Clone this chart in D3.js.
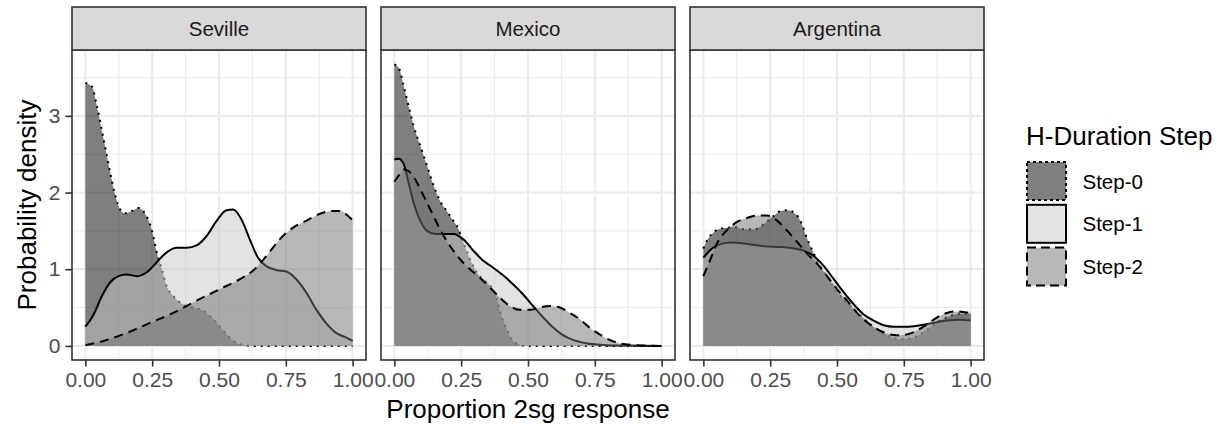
<!DOCTYPE html>
<html><head><meta charset="utf-8">
<script src="https://cdn.jsdelivr.net/npm/d3@7"></script>
<style>
body{margin:0;background:#fff}
text{font-family:"Liberation Sans", Arial, sans-serif}
</style>
</head><body><svg id="chart" width="1224" height="425"></svg>
<script>
// ---------- data ----------
const panels = ["Seville", "Mexico", "Argentina"];
const steps = ["Step-0", "Step-1", "Step-2"];
const xTickValues = [0, 0.25, 0.5, 0.75, 1];
const xTickLabels = ["0.00", "0.25", "0.50", "0.75", "1.00"];
const yTickValues = [0, 1, 2, 3];
const yTickLabels = ["0", "1", "2", "3"];
const xTitle = "Proportion 2sg response";
const yTitle = "Probability density";
const legendTitle = "H-Duration Step";

const sevilleStep0 = [[0,3.43],[0.025,3.38],[0.043,3.13],[0.068,2.70],[0.093,2.26],[0.112,1.96],[0.13,1.78],[0.149,1.73],[0.174,1.76],[0.199,1.80],[0.224,1.72],[0.248,1.52],[0.267,1.22],[0.286,1.0],[0.304,0.78],[0.329,0.65],[0.366,0.54],[0.404,0.50],[0.441,0.46],[0.478,0.35],[0.516,0.20],[0.553,0.065],[0.59,0.013],[0.627,0],[0.75,0],[0.875,0],[1,0]];
const sevilleStep1 = [[0,0.25],[0.031,0.41],[0.062,0.65],[0.093,0.83],[0.124,0.91],[0.155,0.93],[0.193,0.91],[0.23,0.96],[0.267,1.09],[0.304,1.22],[0.342,1.28],[0.379,1.28],[0.416,1.31],[0.453,1.43],[0.491,1.63],[0.528,1.77],[0.553,1.78],[0.584,1.65],[0.615,1.39],[0.646,1.15],[0.677,1.04],[0.714,0.99],[0.752,0.97],[0.789,0.87],[0.826,0.70],[0.863,0.48],[0.9,0.30],[0.938,0.17],[0.975,0.11],[1,0.065]];
const sevilleStep2 = [[0,0.01],[0.068,0.065],[0.155,0.17],[0.242,0.30],[0.329,0.43],[0.416,0.59],[0.503,0.74],[0.578,0.87],[0.627,0.98],[0.677,1.17],[0.727,1.39],[0.776,1.54],[0.826,1.63],[0.876,1.72],[0.925,1.76],[0.957,1.76],[0.981,1.70],[1,1.64]];

const mexicoStep0 = [[0,3.67],[0.016,3.63],[0.035,3.39],[0.053,3.13],[0.072,2.87],[0.097,2.61],[0.122,2.35],[0.147,2.09],[0.171,1.89],[0.196,1.76],[0.221,1.63],[0.24,1.52],[0.258,1.35],[0.283,1.13],[0.308,0.96],[0.339,0.85],[0.364,0.76],[0.383,0.61],[0.401,0.39],[0.42,0.22],[0.439,0.087],[0.463,0.022],[0.494,0],[0.625,0],[0.75,0],[0.875,0],[1,0]];
const mexicoStep1 = [[0,2.43],[0.016,2.44],[0.035,2.37],[0.053,2.13],[0.072,1.87],[0.097,1.63],[0.122,1.50],[0.153,1.46],[0.184,1.46],[0.221,1.46],[0.258,1.39],[0.296,1.24],[0.333,1.11],[0.37,1.02],[0.407,0.92],[0.445,0.80],[0.482,0.67],[0.519,0.52],[0.557,0.37],[0.594,0.24],[0.631,0.14],[0.668,0.078],[0.718,0.035],[0.78,0.013],[0.855,0.004],[1,0]];
const mexicoStep2 = [[0,2.14],[0.016,2.22],[0.035,2.30],[0.053,2.28],[0.078,2.17],[0.109,1.96],[0.14,1.74],[0.171,1.52],[0.209,1.30],[0.246,1.13],[0.283,1.0],[0.32,0.89],[0.358,0.76],[0.395,0.63],[0.432,0.52],[0.47,0.47],[0.507,0.47],[0.544,0.50],[0.581,0.52],[0.619,0.50],[0.656,0.43],[0.693,0.35],[0.73,0.24],[0.768,0.15],[0.805,0.078],[0.842,0.035],[0.892,0.013],[0.942,0.004],[1,0]];

const argentinaStep0 = [[0,1.27],[0.016,1.39],[0.041,1.49],[0.066,1.53],[0.091,1.54],[0.116,1.55],[0.153,1.52],[0.19,1.52],[0.227,1.59],[0.265,1.70],[0.289,1.76],[0.314,1.77],[0.345,1.72],[0.367,1.60],[0.389,1.39],[0.414,1.20],[0.438,1.04],[0.476,0.83],[0.513,0.65],[0.55,0.52],[0.588,0.40],[0.625,0.28],[0.662,0.19],[0.699,0.12],[0.737,0.087],[0.774,0.096],[0.811,0.15],[0.848,0.24],[0.886,0.33],[0.923,0.39],[0.96,0.42],[1,0.42]];
const argentinaStep1 = [[0,1.15],[0.029,1.26],[0.066,1.33],[0.103,1.35],[0.165,1.33],[0.227,1.30],[0.289,1.29],[0.339,1.27],[0.376,1.24],[0.414,1.17],[0.451,1.04],[0.488,0.87],[0.525,0.70],[0.563,0.54],[0.6,0.41],[0.637,0.33],[0.675,0.27],[0.712,0.25],[0.761,0.25],[0.811,0.27],[0.861,0.30],[0.911,0.33],[0.96,0.34],[1,0.33]];
const argentinaStep2 = [[0,0.91],[0.022,1.09],[0.053,1.35],[0.091,1.52],[0.128,1.62],[0.165,1.67],[0.202,1.70],[0.24,1.70],[0.277,1.63],[0.314,1.50],[0.352,1.35],[0.389,1.20],[0.426,1.07],[0.463,0.91],[0.5,0.74],[0.538,0.59],[0.575,0.43],[0.612,0.31],[0.65,0.22],[0.687,0.16],[0.724,0.14],[0.761,0.15],[0.799,0.20],[0.836,0.28],[0.873,0.37],[0.911,0.43],[0.948,0.45],[0.979,0.44],[1,0.43]];

const panelData = {
  "Seville": [sevilleStep0, sevilleStep1, sevilleStep2],
  "Mexico": [mexicoStep0, mexicoStep1, mexicoStep2],
  "Argentina": [argentinaStep0, argentinaStep1, argentinaStep2]
};

// ---------- styles ----------
const fillColors = ["#000000", "#c7c7c7", "#717171"];
const fillOpacity = 0.5;
const dashes = ["2,5", null, "9,6"];
const keyDashes = ["3,3", null, "9,5"];

const svg = d3.select("#chart");
svg.append("rect").attr("width", 1224).attr("height", 425).attr("fill", "#fff");

const panelLeft = [72, 381, 690];
const panelW = 294;
const panelTop = 50, panelBottom = 360;
const stripTop = 7;

const yMax = 3.675;
const y = d3.scaleLinear().domain([-0.05 * yMax, 1.05 * yMax]).range([panelBottom, panelTop]);

panels.forEach((name, pi) => {
  const x0 = panelLeft[pi];
  const x = d3.scaleLinear().domain([-0.05, 1.05]).range([x0, x0 + panelW]);
  const g = svg.append("g");

  g.append("rect").attr("x", x0).attr("y", panelTop).attr("width", panelW).attr("height", panelBottom - panelTop).attr("fill", "#fff");

  // minor grid
  const minorX = [0.125, 0.375, 0.625, 0.875];
  const minorY = [0.5, 1.5, 2.5, 3.5];
  g.selectAll(".mx").data(minorX).enter().append("line")
    .attr("x1", d => x(d)).attr("x2", d => x(d)).attr("y1", panelTop).attr("y2", panelBottom)
    .attr("stroke", "#ebebeb").attr("stroke-width", 1.1);
  g.selectAll(".my").data(minorY).enter().append("line")
    .attr("y1", d => y(d)).attr("y2", d => y(d)).attr("x1", x0).attr("x2", x0 + panelW)
    .attr("stroke", "#ebebeb").attr("stroke-width", 1.1);
  // major grid
  g.selectAll(".Mx").data(xTickValues).enter().append("line")
    .attr("x1", d => x(d)).attr("x2", d => x(d)).attr("y1", panelTop).attr("y2", panelBottom)
    .attr("stroke", "#ebebeb").attr("stroke-width", 2.2);
  g.selectAll(".My").data(yTickValues).enter().append("line")
    .attr("y1", d => y(d)).attr("y2", d => y(d)).attr("x1", x0).attr("x2", x0 + panelW)
    .attr("stroke", "#ebebeb").attr("stroke-width", 2.2);

  const area = d3.area().x(d => x(d[0])).y0(y(0)).y1(d => y(d[1])).curve(d3.curveMonotoneX);
  const line = d3.line().x(d => x(d[0])).y(d => y(d[1])).curve(d3.curveMonotoneX);

  panelData[name].forEach((series, si) => {
    g.append("path").attr("d", area(series)).attr("fill", fillColors[si]).attr("fill-opacity", fillOpacity);
    const l = g.append("path").attr("d", line(series)).attr("fill", "none")
      .attr("stroke", "#000").attr("stroke-width", 2);
    if (dashes[si]) l.attr("stroke-dasharray", dashes[si]);
  });

  // panel border
  g.append("rect").attr("x", x0).attr("y", panelTop).attr("width", panelW).attr("height", panelBottom - panelTop)
    .attr("fill", "none").attr("stroke", "#333").attr("stroke-width", 1.6);

  // strip
  g.append("rect").attr("x", x0).attr("y", stripTop).attr("width", panelW).attr("height", panelTop - stripTop)
    .attr("fill", "#d9d9d9").attr("stroke", "#333").attr("stroke-width", 1.6);
  g.append("text").attr("x", x0 + panelW / 2).attr("y", (stripTop + panelTop) / 2 + 7.5)
    .attr("text-anchor", "middle").attr("font-size", 20.5).attr("fill", "#1a1a1a").text(name);

  // x axis
  const xa = d3.axisBottom(x).tickValues(xTickValues).tickFormat((d, i) => xTickLabels[i]).tickSize(6.6).tickPadding(5);
  const xg = g.append("g").attr("transform", `translate(0,${panelBottom})`).call(xa);
  xg.select(".domain").remove();
  xg.selectAll(".tick line").attr("stroke", "#333").attr("stroke-width", 1.6);
  xg.selectAll(".tick text").attr("font-size", 21).attr("fill", "#4d4d4d")
    .attr("font-family", '"Liberation Sans", Arial, sans-serif');

  if (pi === 0) {
    const ya = d3.axisLeft(y).tickValues(yTickValues).tickFormat((d, i) => yTickLabels[i]).tickSize(6.6).tickPadding(5);
    const yg = g.append("g").attr("transform", `translate(${x0},0)`).call(ya);
    yg.select(".domain").remove();
    yg.selectAll(".tick line").attr("stroke", "#333").attr("stroke-width", 1.6);
    yg.selectAll(".tick text").attr("font-size", 21).attr("fill", "#4d4d4d")
      .attr("font-family", '"Liberation Sans", Arial, sans-serif');
  }
});

// axis titles
svg.append("text").attr("x", (panelLeft[0] + panelLeft[2] + panelW) / 2).attr("y", 418)
  .attr("text-anchor", "middle").attr("font-size", 26).attr("fill", "#000").text(xTitle);
svg.append("text").attr("transform", `translate(36,${(panelTop + panelBottom) / 2}) rotate(-90)`)
  .attr("text-anchor", "middle").attr("font-size", 26).attr("fill", "#000").text(yTitle);

// legend
const lg = svg.append("g");
lg.append("text").attr("x", 1026).attr("y", 145).attr("font-size", 26).attr("fill", "#000").text(legendTitle);
const keyTop = 161, keyStep = 42.8, keyX = 1026, keyW = 41, keyH = 40;
steps.forEach((s, i) => {
  const ty = keyTop + i * keyStep;
  lg.append("rect").attr("x", keyX + 1).attr("y", ty + 1).attr("width", keyW - 2).attr("height", keyH - 2)
    .attr("fill", "#fff");
  const r = lg.append("rect").attr("x", keyX + 1).attr("y", ty + 1).attr("width", keyW - 2).attr("height", keyH - 2)
    .attr("fill", fillColors[i]).attr("fill-opacity", fillOpacity)
    .attr("stroke", "#000").attr("stroke-width", 2);
  if (keyDashes[i]) r.attr("stroke-dasharray", keyDashes[i]);
  lg.append("text").attr("x", 1082.5).attr("y", ty + keyH / 2 + 7.5).attr("font-size", 20.5).attr("fill", "#000").text(s);
});
</script>
</body></html>
